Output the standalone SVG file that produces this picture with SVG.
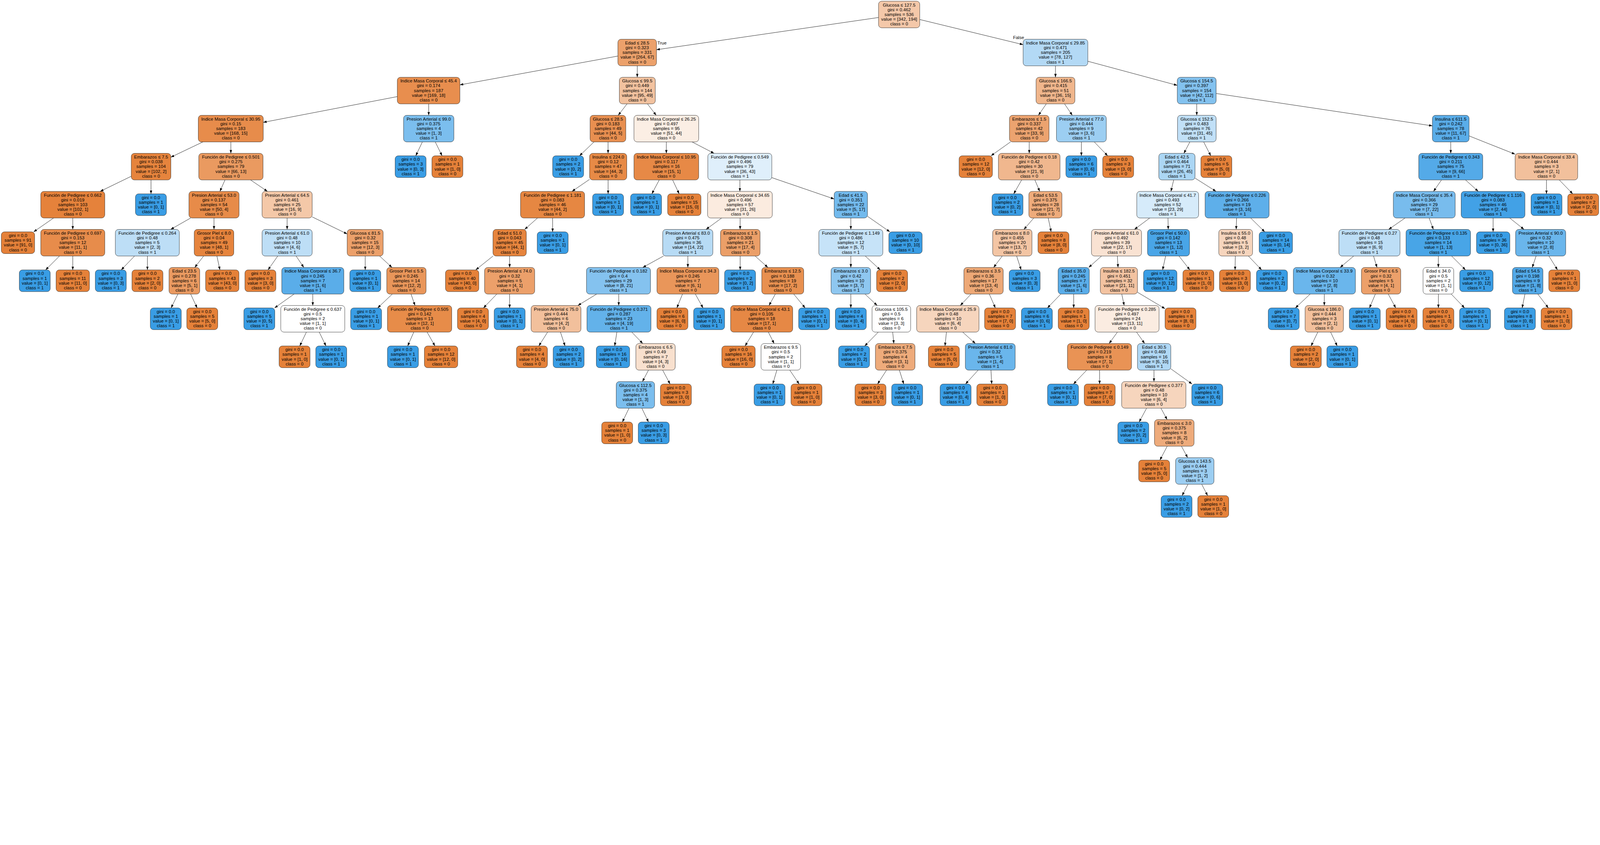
<svg xmlns="http://www.w3.org/2000/svg" width="6673" height="2164" viewBox="0 0 6673 2164" preserveAspectRatio="xMinYMin meet" style="width:100vw;height:100vh;display:block">
<defs>
<marker id="ah" markerUnits="userSpaceOnUse" markerWidth="14" markerHeight="10" refX="14" refY="5" orient="auto"><path d="M0,0 L14,5 L0,10 z" fill="#000"/></marker>
</defs>
<style>
text{font-family:"Liberation Sans",Arial,Helvetica,sans-serif;font-size:18.8px;text-anchor:middle;fill:#000}
.nd rect{stroke:#1a1a1a;stroke-width:1.3}
.o rect{fill:#e58139}
.b rect{fill:#399de5}
#edges path{fill:none;stroke:#000;stroke-width:1.4;marker-end:url(#ah)}
</style>
<rect width="6673" height="2164" fill="#fff"/>
<g id="edges">
<path d="M3664 73L2738 207.5"/><path d="M3836 81.4L4267 186.3"/>
<path d="M2577 233.9L1918 354.1"/><path d="M2657.8 274.7L2657.8 322.4"/><path d="M4402 274.7L4402 322.4"/><path d="M4537 255.6L4910 356.1"/>
<path d="M1657 403L1098 510.5"/><path d="M1788 433.4L1788 481.1"/><path d="M2615.2 433.4L2578.3 481.1"/><path d="M2700.3 433.4L2736.7 481.1"/><path d="M4363.7 433.4L4330.8 481.1"/><path d="M4439.8 433.4L4472.2 481.1"/><path d="M4991.2 433.4L4991.2 481.1"/><path d="M5072 390L5974 525.1"/>
<path d="M846.2 592.1L712.5 655.9"/><path d="M962.8 592.1L962.8 639.8"/><path d="M1761.6 592.1L1734 650"/><path d="M1815.3 592.1L1843.7 650"/><path d="M2477.5 592.1L2416.9 650"/><path d="M2536 592.1L2536 639.8"/><path d="M2779 592.1L2779 639.8"/><path d="M2886.2 592.1L2978.3 639.8"/><path d="M4214.5 592.1L4133.1 650"/><path d="M4292.5 592.1L4292.5 639.8"/><path d="M4510 592.1L4510 650"/><path d="M4563.7 592.1L4619.7 650"/><path d="M4962.5 592.1L4937.5 639.8"/><path d="M5020 592.1L5049.7 650"/><path d="M6050.5 592.1L6050.5 639.8"/><path d="M6127 567L6319 643.4"/>
<path d="M547.5 735.4L417.7 798.5"/><path d="M629.8 750.8L629.8 808.7"/><path d="M938.3 750.8L917.2 798.5"/><path d="M1045 750.8L1115.5 798.5"/><path d="M2459 748.3L2385.6 798.5"/><path d="M2536.2 750.8L2536.2 808.7"/><path d="M2749.5 750.8L2718.6 808.7"/><path d="M2805.2 750.8L2832.6 808.7"/><path d="M3085.8 750.8L3085.8 798.5"/><path d="M3219 741.1L3479 830.2"/><path d="M4260.9 750.8L4227.8 808.7"/><path d="M4316.1 750.8L4336.4 798.5"/><path d="M4895 750.8L4883.5 798.5"/><path d="M4984 743L5071.7 798.5"/><path d="M6011.9 750.8L5978.6 798.5"/><path d="M6112.2 750.8L6165.3 798.5"/><path d="M6449.8 750.8L6449.8 808.7"/><path d="M6503.2 750.8L6559.2 808.7"/>
<path d="M223.6 909.5L140.2 967.4"/><path d="M303.5 909.5L303.5 957.2"/><path d="M795.3 909.5L711.7 957.2"/><path d="M892.5 909.5L892.5 957.2"/><path d="M1197.5 909.5L1197.5 957.2"/><path d="M1302 904.9L1448 976.1"/><path d="M2241.9 909.5L2188.1 957.2"/><path d="M2304.8 909.5L2304.8 967.4"/><path d="M3009.9 909.5L2944.6 957.2"/><path d="M3086.8 909.5L3086.8 957.2"/><path d="M3548.5 909.5L3548.5 957.2"/><path d="M3618 902.4L3711.4 967.4"/><path d="M4311.7 909.5L4270.3 957.2"/><path d="M4371.7 909.5L4383.9 967.4"/><path d="M4795.3 909.5L4731.2 957.2"/><path d="M4871.2 909.5L4872.3 957.2"/><path d="M5157.4 909.5L5155.6 957.2"/><path d="M5216 909.5L5274.9 967.4"/><path d="M5860.1 909.5L5791.4 957.2"/><path d="M5960.5 909.5L5978 957.2"/><path d="M6227.2 909.5L6227.2 967.4"/><path d="M6296.4 909.5L6356.1 957.2"/>
<path d="M248.1 1068.2L190.2 1126.1"/><path d="M303.5 1068.2L303.5 1126.1"/><path d="M561.2 1068.2L505.5 1126.1"/><path d="M614.8 1068.2L614.8 1126.1"/><path d="M849.3 1068.2L812.2 1115.9"/><path d="M904.6 1068.2L917.2 1126.1"/><path d="M1158.5 1068.2L1117.8 1126.1"/><path d="M1234.9 1068.2L1267.1 1115.9"/><path d="M1523.2 1068.2L1523.2 1126.1"/><path d="M1583.1 1068.2L1634.9 1115.9"/><path d="M2056.3 1068.2L1984 1126.1"/><path d="M2125.5 1068.2L2125.5 1115.9"/><path d="M2767.4 1068.2L2680.6 1115.9"/><path d="M2868.8 1068.2L2868.8 1115.9"/><path d="M3087 1068.2L3087 1126.1"/><path d="M3149.4 1068.2L3202.6 1115.9"/><path d="M3548.5 1068.2L3548.5 1115.9"/><path d="M3608.6 1068.2L3671.4 1126.1"/><path d="M4180 1068.2L4144 1115.9"/><path d="M4240 1068.2L4258.8 1126.1"/><path d="M4594.1 1068.2L4540.4 1115.9"/><path d="M4660 1068.2L4663 1115.9"/><path d="M4861.4 1068.2L4848.8 1126.1"/><path d="M4917 1068.2L4962.5 1126.1"/><path d="M5152 1068.2L5151 1126.1"/><path d="M5206.5 1068.2L5261.8 1126.1"/><path d="M5645.8 1068.2L5589.2 1115.9"/><path d="M5728.5 1068.2L5743 1115.9"/><path d="M5998.8 1068.2L5998.8 1115.9"/><path d="M6054.1 1068.2L6112.1 1126.1"/><path d="M6406.6 1068.2L6390.4 1115.9"/><path d="M6459.9 1068.2L6495.9 1126.1"/>
<path d="M741.9 1226.9L713.6 1284.8"/><path d="M795.1 1226.9L822.2 1284.8"/><path d="M1226.5 1226.9L1145.1 1284.8"/><path d="M1304.5 1226.9L1304.5 1274.6"/><path d="M1636.3 1226.9L1574.9 1284.8"/><path d="M1714.2 1226.9L1730.8 1274.6"/><path d="M2072 1226.9L2016.2 1284.8"/><path d="M2125.5 1226.9L2125.5 1284.8"/><path d="M2488.4 1226.9L2410.1 1274.6"/><path d="M2580.5 1226.9L2580.5 1274.6"/><path d="M2846.4 1226.9L2822.9 1284.8"/><path d="M2899.9 1226.9L2932.2 1284.8"/><path d="M3233.7 1226.9L3207.3 1274.6"/><path d="M3310.3 1226.9L3358.1 1284.8"/><path d="M3548.5 1226.9L3548.5 1284.8"/><path d="M3607.6 1226.9L3658.4 1274.6"/><path d="M4049.9 1226.9L4005.1 1274.6"/><path d="M4126.1 1226.9L4151.3 1284.8"/><path d="M4424.3 1226.9L4368.3 1284.8"/><path d="M4478 1226.9L4478 1284.8"/><path d="M4678.4 1226.9L4688.6 1274.6"/><path d="M4744 1219.3L4859 1288"/><path d="M5464.2 1226.9L5402.4 1284.8"/><path d="M5523.2 1226.9L5523.2 1274.6"/><path d="M5736.2 1226.9L5711.4 1284.8"/><path d="M5789.9 1226.9L5821.1 1284.8"/><path d="M5999 1226.9L5999 1284.8"/><path d="M6052.5 1226.9L6108.3 1284.8"/><path d="M6360.1 1226.9L6348.3 1284.8"/><path d="M6413.6 1226.9L6457.6 1284.8"/>
<path d="M1277.9 1385.6L1250.2 1443.5"/><path d="M1331.4 1385.6L1359.5 1443.5"/><path d="M1725.7 1385.6L1700.3 1443.5"/><path d="M1781.3 1385.6L1814 1443.5"/><path d="M2283.9 1385.6L2247.2 1443.5"/><path d="M2337.4 1385.6L2356.5 1443.5"/><path d="M2572.8 1385.6L2563.6 1443.5"/><path d="M2634.8 1385.6L2680.7 1433.3"/><path d="M3142.8 1385.6L3107.5 1443.5"/><path d="M3204.5 1385.6L3228.5 1433.3"/><path d="M3663.1 1385.6L3606.4 1443.5"/><path d="M3723.1 1385.6L3727.9 1433.3"/><path d="M3947.2 1385.6L3941.2 1443.5"/><path d="M4014.9 1385.6L4068.1 1433.3"/><path d="M4660.3 1385.6L4625.7 1433.3"/><path d="M4740 1385.6L4774 1433.3"/><path d="M5496.1 1385.6L5468 1443.5"/><path d="M5549.4 1385.6L5577 1443.5"/>
<path d="M2704.6 1544.3L2679.4 1592"/><path d="M2763.7 1544.3L2794.7 1602.2"/><path d="M3240.1 1544.3L3222.9 1602.2"/><path d="M3293.9 1544.3L3333 1602.2"/><path d="M3697.5 1544.3L3659.9 1602.2"/><path d="M3751 1544.3L3769.2 1602.2"/><path d="M4079.5 1544.3L4026.7 1602.2"/><path d="M4133 1544.3L4136 1602.2"/><path d="M4532.3 1544.3L4476.9 1602.2"/><path d="M4586 1544.3L4586 1602.2"/><path d="M4812.8 1544.3L4812.8 1592"/><path d="M4883 1538.6L4971.8 1602.2"/>
<path d="M2623.4 1703L2595.7 1760.9"/><path d="M2676.8 1703L2704.7 1760.9"/><path d="M4782.1 1703L4750.9 1760.9"/><path d="M4841.9 1703L4867.6 1750.7"/>
<path d="M4868.1 1861.7L4837.5 1919.6"/><path d="M4927.4 1861.7L4953.1 1909.4"/>
<path d="M4954.6 2020.4L4930.2 2067.9"/><path d="M5011.8 2020.4L5036.5 2067.9"/>
<text x="2761" y="185.5">True</text>
<text x="4248" y="162.5">False</text>
</g>
<g id="n0" class="nd"><rect x="3664" y="5" width="172" height="111" rx="13" fill="#f4c8a9"/><text y="26.9"><tspan x="3750">Glucosa ≤ 127.5</tspan><tspan x="3750" dy="19.8">gini = 0.462</tspan><tspan x="3750" dy="19.8">samples = 536</tspan><tspan x="3750" dy="19.8">value = [342, 194]</tspan><tspan x="3750" dy="19.8">class = 0</tspan></text></g>
<g id="n1" class="nd"><rect x="2577" y="163.7" width="161" height="111" rx="13" fill="#eca16b"/><text y="185.6"><tspan x="2657.5">Edad ≤ 28.5</tspan><tspan x="2657.5" dy="19.8">gini = 0.323</tspan><tspan x="2657.5" dy="19.8">samples = 331</tspan><tspan x="2657.5" dy="19.8">value = [264, 67]</tspan><tspan x="2657.5" dy="19.8">class = 0</tspan></text></g>
<g id="n2" class="nd"><rect x="4267" y="163.7" width="270" height="111" rx="13" fill="#b3d9f5"/><text y="185.6"><tspan x="4402">Indice Masa Corporal ≤ 29.85</tspan><tspan x="4402" dy="19.8">gini = 0.471</tspan><tspan x="4402" dy="19.8">samples = 205</tspan><tspan x="4402" dy="19.8">value = [78, 127]</tspan><tspan x="4402" dy="19.8">class = 1</tspan></text></g>
<g id="n3" class="nd"><rect x="1657" y="322.4" width="261" height="111" rx="13" fill="#e88e4e"/><text y="344.3"><tspan x="1787.5">Indice Masa Corporal ≤ 45.4</tspan><tspan x="1787.5" dy="19.8">gini = 0.174</tspan><tspan x="1787.5" dy="19.8">samples = 187</tspan><tspan x="1787.5" dy="19.8">value = [169, 18]</tspan><tspan x="1787.5" dy="19.8">class = 0</tspan></text></g>
<g id="n4" class="nd"><rect x="2583" y="322.4" width="150" height="111" rx="13" fill="#f2c29f"/><text y="344.3"><tspan x="2658">Glucosa ≤ 99.5</tspan><tspan x="2658" dy="19.8">gini = 0.449</tspan><tspan x="2658" dy="19.8">samples = 144</tspan><tspan x="2658" dy="19.8">value = [95, 49]</tspan><tspan x="2658" dy="19.8">class = 0</tspan></text></g>
<g id="n5" class="nd"><rect x="4321" y="322.4" width="162" height="111" rx="13" fill="#f0b68c"/><text y="344.3"><tspan x="4402">Glucosa ≤ 166.5</tspan><tspan x="4402" dy="19.8">gini = 0.415</tspan><tspan x="4402" dy="19.8">samples = 51</tspan><tspan x="4402" dy="19.8">value = [36, 15]</tspan><tspan x="4402" dy="19.8">class = 0</tspan></text></g>
<g id="n6" class="nd"><rect x="4910" y="322.4" width="162" height="111" rx="13" fill="#83c2ef"/><text y="344.3"><tspan x="4991">Glucosa ≤ 154.5</tspan><tspan x="4991" dy="19.8">gini = 0.397</tspan><tspan x="4991" dy="19.8">samples = 154</tspan><tspan x="4991" dy="19.8">value = [42, 112]</tspan><tspan x="4991" dy="19.8">class = 1</tspan></text></g>
<g id="n7" class="nd"><rect x="827" y="481.1" width="271" height="111" rx="13" fill="#e78c4b"/><text y="503"><tspan x="962.5">Indice Masa Corporal ≤ 30.95</tspan><tspan x="962.5" dy="19.8">gini = 0.15</tspan><tspan x="962.5" dy="19.8">samples = 183</tspan><tspan x="962.5" dy="19.8">value = [168, 15]</tspan><tspan x="962.5" dy="19.8">class = 0</tspan></text></g>
<g id="n8" class="nd"><rect x="1683" y="481.1" width="210" height="111" rx="13" fill="#7bbeee"/><text y="503"><tspan x="1788">Presion Arterial ≤ 99.0</tspan><tspan x="1788" dy="19.8">gini = 0.375</tspan><tspan x="1788" dy="19.8">samples = 4</tspan><tspan x="1788" dy="19.8">value = [1, 3]</tspan><tspan x="1788" dy="19.8">class = 1</tspan></text></g>
<g id="n9" class="nd"><rect x="2461" y="481.1" width="149" height="111" rx="13" fill="#e88f50"/><text y="503"><tspan x="2535.5">Glucosa ≤ 28.5</tspan><tspan x="2535.5" dy="19.8">gini = 0.183</tspan><tspan x="2535.5" dy="19.8">samples = 49</tspan><tspan x="2535.5" dy="19.8">value = [44, 5]</tspan><tspan x="2535.5" dy="19.8">class = 0</tspan></text></g>
<g id="n10" class="nd"><rect x="2644" y="481.1" width="270" height="111" rx="13" fill="#fbeee4"/><text y="503"><tspan x="2779">Indice Masa Corporal ≤ 26.25</tspan><tspan x="2779" dy="19.8">gini = 0.497</tspan><tspan x="2779" dy="19.8">samples = 95</tspan><tspan x="2779" dy="19.8">value = [51, 44]</tspan><tspan x="2779" dy="19.8">class = 0</tspan></text></g>
<g id="n11" class="nd"><rect x="4210" y="481.1" width="165" height="111" rx="13" fill="#eca36f"/><text y="503"><tspan x="4292.5">Embarazos ≤ 1.5</tspan><tspan x="4292.5" dy="19.8">gini = 0.337</tspan><tspan x="4292.5" dy="19.8">samples = 42</tspan><tspan x="4292.5" dy="19.8">value = [33, 9]</tspan><tspan x="4292.5" dy="19.8">class = 0</tspan></text></g>
<g id="n12" class="nd"><rect x="4406" y="481.1" width="208" height="111" rx="13" fill="#9ccef2"/><text y="503"><tspan x="4510">Presion Arterial ≤ 77.0</tspan><tspan x="4510" dy="19.8">gini = 0.444</tspan><tspan x="4510" dy="19.8">samples = 9</tspan><tspan x="4510" dy="19.8">value = [3, 6]</tspan><tspan x="4510" dy="19.8">class = 1</tspan></text></g>
<g id="n13" class="nd"><rect x="4911" y="481.1" width="161" height="111" rx="13" fill="#c1e0f7"/><text y="503"><tspan x="4991.5">Glucosa ≤ 152.5</tspan><tspan x="4991.5" dy="19.8">gini = 0.483</tspan><tspan x="4991.5" dy="19.8">samples = 76</tspan><tspan x="4991.5" dy="19.8">value = [31, 45]</tspan><tspan x="4991.5" dy="19.8">class = 1</tspan></text></g>
<g id="n14" class="nd"><rect x="5974" y="481.1" width="153" height="111" rx="13" fill="#5aade9"/><text y="503"><tspan x="6050.5">Insulina ≤ 611.5</tspan><tspan x="6050.5" dy="19.8">gini = 0.242</tspan><tspan x="6050.5" dy="19.8">samples = 78</tspan><tspan x="6050.5" dy="19.8">value = [11, 67]</tspan><tspan x="6050.5" dy="19.8">class = 1</tspan></text></g>
<g id="n15" class="nd"><rect x="547.5" y="639.8" width="165" height="111" rx="13" fill="#e6843d"/><text y="661.7"><tspan x="630">Embarazos ≤ 7.5</tspan><tspan x="630" dy="19.8">gini = 0.038</tspan><tspan x="630" dy="19.8">samples = 104</tspan><tspan x="630" dy="19.8">value = [102, 2]</tspan><tspan x="630" dy="19.8">class = 0</tspan></text></g>
<g id="n16" class="nd"><rect x="829" y="639.8" width="268" height="111" rx="13" fill="#ea9a60"/><text y="661.7"><tspan x="963">Función de Pedigree ≤ 0.501</tspan><tspan x="963" dy="19.8">gini = 0.275</tspan><tspan x="963" dy="19.8">samples = 79</tspan><tspan x="963" dy="19.8">value = [66, 13]</tspan><tspan x="963" dy="19.8">class = 0</tspan></text></g>
<g id="n17" class="nd b"><rect x="1648" y="650" width="129" height="90.6" rx="13"/><text y="671.6"><tspan x="1712.5">gini = 0.0</tspan><tspan x="1712.5" dy="19.8">samples = 3</tspan><tspan x="1712.5" dy="19.8">value = [0, 3]</tspan><tspan x="1712.5" dy="19.8">class = 1</tspan></text></g>
<g id="n18" class="nd o"><rect x="1801.5" y="650" width="129" height="90.6" rx="13"/><text y="671.6"><tspan x="1866">gini = 0.0</tspan><tspan x="1866" dy="19.8">samples = 1</tspan><tspan x="1866" dy="19.8">value = [1, 0]</tspan><tspan x="1866" dy="19.8">class = 0</tspan></text></g>
<g id="n19" class="nd b"><rect x="2305" y="650" width="129" height="90.6" rx="13"/><text y="671.6"><tspan x="2369.5">gini = 0.0</tspan><tspan x="2369.5" dy="19.8">samples = 2</tspan><tspan x="2369.5" dy="19.8">value = [0, 2]</tspan><tspan x="2369.5" dy="19.8">class = 1</tspan></text></g>
<g id="n20" class="nd"><rect x="2459" y="639.8" width="155" height="111" rx="13" fill="#e78a46"/><text y="661.7"><tspan x="2536.5">Insulina ≤ 224.0</tspan><tspan x="2536.5" dy="19.8">gini = 0.12</tspan><tspan x="2536.5" dy="19.8">samples = 47</tspan><tspan x="2536.5" dy="19.8">value = [44, 3]</tspan><tspan x="2536.5" dy="19.8">class = 0</tspan></text></g>
<g id="n21" class="nd"><rect x="2644" y="639.8" width="270" height="111" rx="13" fill="#e78946"/><text y="661.7"><tspan x="2779">Indice Masa Corporal ≤ 10.95</tspan><tspan x="2779" dy="19.8">gini = 0.117</tspan><tspan x="2779" dy="19.8">samples = 16</tspan><tspan x="2779" dy="19.8">value = [15, 1]</tspan><tspan x="2779" dy="19.8">class = 0</tspan></text></g>
<g id="n22" class="nd"><rect x="2952" y="639.8" width="267" height="111" rx="13" fill="#dfeffb"/><text y="661.7"><tspan x="3085.5">Función de Pedigree ≤ 0.549</tspan><tspan x="3085.5" dy="19.8">gini = 0.496</tspan><tspan x="3085.5" dy="19.8">samples = 79</tspan><tspan x="3085.5" dy="19.8">value = [36, 43]</tspan><tspan x="3085.5" dy="19.8">class = 1</tspan></text></g>
<g id="n23" class="nd o"><rect x="4000" y="650" width="139" height="90.6" rx="13"/><text y="671.6"><tspan x="4069.5">gini = 0.0</tspan><tspan x="4069.5" dy="19.8">samples = 12</tspan><tspan x="4069.5" dy="19.8">value = [12, 0]</tspan><tspan x="4069.5" dy="19.8">class = 0</tspan></text></g>
<g id="n24" class="nd"><rect x="4164" y="639.8" width="257" height="111" rx="13" fill="#f0b78e"/><text y="661.7"><tspan x="4292.5">Función de Pedigree ≤ 0.18</tspan><tspan x="4292.5" dy="19.8">gini = 0.42</tspan><tspan x="4292.5" dy="19.8">samples = 30</tspan><tspan x="4292.5" dy="19.8">value = [21, 9]</tspan><tspan x="4292.5" dy="19.8">class = 0</tspan></text></g>
<g id="n25" class="nd b"><rect x="4445.5" y="650" width="129" height="90.6" rx="13"/><text y="671.6"><tspan x="4510">gini = 0.0</tspan><tspan x="4510" dy="19.8">samples = 6</tspan><tspan x="4510" dy="19.8">value = [0, 6]</tspan><tspan x="4510" dy="19.8">class = 1</tspan></text></g>
<g id="n26" class="nd o"><rect x="4599" y="650" width="129" height="90.6" rx="13"/><text y="671.6"><tspan x="4663.5">gini = 0.0</tspan><tspan x="4663.5" dy="19.8">samples = 3</tspan><tspan x="4663.5" dy="19.8">value = [3, 0]</tspan><tspan x="4663.5" dy="19.8">class = 0</tspan></text></g>
<g id="n27" class="nd"><rect x="4833" y="639.8" width="151" height="111" rx="13" fill="#abd6f4"/><text y="661.7"><tspan x="4908.5">Edad ≤ 42.5</tspan><tspan x="4908.5" dy="19.8">gini = 0.464</tspan><tspan x="4908.5" dy="19.8">samples = 71</tspan><tspan x="4908.5" dy="19.8">value = [26, 45]</tspan><tspan x="4908.5" dy="19.8">class = 1</tspan></text></g>
<g id="n28" class="nd o"><rect x="5008.5" y="650" width="129" height="90.6" rx="13"/><text y="671.6"><tspan x="5073">gini = 0.0</tspan><tspan x="5073" dy="19.8">samples = 5</tspan><tspan x="5073" dy="19.8">value = [5, 0]</tspan><tspan x="5073" dy="19.8">class = 0</tspan></text></g>
<g id="n29" class="nd"><rect x="5917" y="639.8" width="267" height="111" rx="13" fill="#54aae8"/><text y="661.7"><tspan x="6050.5">Función de Pedigree ≤ 0.343</tspan><tspan x="6050.5" dy="19.8">gini = 0.211</tspan><tspan x="6050.5" dy="19.8">samples = 75</tspan><tspan x="6050.5" dy="19.8">value = [9, 66]</tspan><tspan x="6050.5" dy="19.8">class = 1</tspan></text></g>
<g id="n30" class="nd"><rect x="6319" y="639.8" width="261" height="111" rx="13" fill="#f2c09c"/><text y="661.7"><tspan x="6449.5">Indice Masa Corporal ≤ 33.4</tspan><tspan x="6449.5" dy="19.8">gini = 0.444</tspan><tspan x="6449.5" dy="19.8">samples = 3</tspan><tspan x="6449.5" dy="19.8">value = [2, 1]</tspan><tspan x="6449.5" dy="19.8">class = 0</tspan></text></g>
<g id="n31" class="nd"><rect x="170" y="798.5" width="267" height="111" rx="13" fill="#e5823b"/><text y="820.4"><tspan x="303.5">Función de Pedigree ≤ 0.662</tspan><tspan x="303.5" dy="19.8">gini = 0.019</tspan><tspan x="303.5" dy="19.8">samples = 103</tspan><tspan x="303.5" dy="19.8">value = [102, 1]</tspan><tspan x="303.5" dy="19.8">class = 0</tspan></text></g>
<g id="n32" class="nd b"><rect x="565" y="808.7" width="129" height="90.6" rx="13"/><text y="830.3"><tspan x="629.5">gini = 0.0</tspan><tspan x="629.5" dy="19.8">samples = 1</tspan><tspan x="629.5" dy="19.8">value = [0, 1]</tspan><tspan x="629.5" dy="19.8">class = 1</tspan></text></g>
<g id="n33" class="nd"><rect x="788" y="798.5" width="209" height="111" rx="13" fill="#e78b49"/><text y="820.4"><tspan x="892.5">Presion Arterial ≤ 53.0</tspan><tspan x="892.5" dy="19.8">gini = 0.137</tspan><tspan x="892.5" dy="19.8">samples = 54</tspan><tspan x="892.5" dy="19.8">value = [50, 4]</tspan><tspan x="892.5" dy="19.8">class = 0</tspan></text></g>
<g id="n34" class="nd"><rect x="1093" y="798.5" width="209" height="111" rx="13" fill="#f4c8a8"/><text y="820.4"><tspan x="1197.5">Presion Arterial ≤ 64.5</tspan><tspan x="1197.5" dy="19.8">gini = 0.461</tspan><tspan x="1197.5" dy="19.8">samples = 25</tspan><tspan x="1197.5" dy="19.8">value = [16, 9]</tspan><tspan x="1197.5" dy="19.8">class = 0</tspan></text></g>
<g id="n35" class="nd"><rect x="2171" y="798.5" width="267" height="111" rx="13" fill="#e68742"/><text y="820.4"><tspan x="2304.5">Función de Pedigree ≤ 1.181</tspan><tspan x="2304.5" dy="19.8">gini = 0.083</tspan><tspan x="2304.5" dy="19.8">samples = 46</tspan><tspan x="2304.5" dy="19.8">value = [44, 2]</tspan><tspan x="2304.5" dy="19.8">class = 0</tspan></text></g>
<g id="n36" class="nd b"><rect x="2471.5" y="808.7" width="129" height="90.6" rx="13"/><text y="830.3"><tspan x="2536">gini = 0.0</tspan><tspan x="2536" dy="19.8">samples = 1</tspan><tspan x="2536" dy="19.8">value = [0, 1]</tspan><tspan x="2536" dy="19.8">class = 1</tspan></text></g>
<g id="n37" class="nd b"><rect x="2630" y="808.7" width="129" height="90.6" rx="13"/><text y="830.3"><tspan x="2694.5">gini = 0.0</tspan><tspan x="2694.5" dy="19.8">samples = 1</tspan><tspan x="2694.5" dy="19.8">value = [0, 1]</tspan><tspan x="2694.5" dy="19.8">class = 1</tspan></text></g>
<g id="n38" class="nd o"><rect x="2784.5" y="808.7" width="139" height="90.6" rx="13"/><text y="830.3"><tspan x="2854">gini = 0.0</tspan><tspan x="2854" dy="19.8">samples = 15</tspan><tspan x="2854" dy="19.8">value = [15, 0]</tspan><tspan x="2854" dy="19.8">class = 0</tspan></text></g>
<g id="n39" class="nd"><rect x="2951" y="798.5" width="270" height="111" rx="13" fill="#fbebdf"/><text y="820.4"><tspan x="3086">Indice Masa Corporal ≤ 34.65</tspan><tspan x="3086" dy="19.8">gini = 0.496</tspan><tspan x="3086" dy="19.8">samples = 57</tspan><tspan x="3086" dy="19.8">value = [31, 26]</tspan><tspan x="3086" dy="19.8">class = 0</tspan></text></g>
<g id="n40" class="nd"><rect x="3479" y="798.5" width="139" height="111" rx="13" fill="#73baed"/><text y="820.4"><tspan x="3548.5">Edad ≤ 41.5</tspan><tspan x="3548.5" dy="19.8">gini = 0.351</tspan><tspan x="3548.5" dy="19.8">samples = 22</tspan><tspan x="3548.5" dy="19.8">value = [5, 17]</tspan><tspan x="3548.5" dy="19.8">class = 1</tspan></text></g>
<g id="n41" class="nd b"><rect x="4137.5" y="808.7" width="129" height="90.6" rx="13"/><text y="830.3"><tspan x="4202">gini = 0.0</tspan><tspan x="4202" dy="19.8">samples = 2</tspan><tspan x="4202" dy="19.8">value = [0, 2]</tspan><tspan x="4202" dy="19.8">class = 1</tspan></text></g>
<g id="n42" class="nd"><rect x="4291" y="798.5" width="138" height="111" rx="13" fill="#eeab7b"/><text y="820.4"><tspan x="4360">Edad ≤ 53.5</tspan><tspan x="4360" dy="19.8">gini = 0.375</tspan><tspan x="4360" dy="19.8">samples = 28</tspan><tspan x="4360" dy="19.8">value = [21, 7]</tspan><tspan x="4360" dy="19.8">class = 0</tspan></text></g>
<g id="n43" class="nd"><rect x="4741" y="798.5" width="258" height="111" rx="13" fill="#d6ebfa"/><text y="820.4"><tspan x="4870">Indice Masa Corporal ≤ 41.7</tspan><tspan x="4870" dy="19.8">gini = 0.493</tspan><tspan x="4870" dy="19.8">samples = 52</tspan><tspan x="4870" dy="19.8">value = [23, 29]</tspan><tspan x="4870" dy="19.8">class = 1</tspan></text></g>
<g id="n44" class="nd"><rect x="5026" y="798.5" width="267" height="111" rx="13" fill="#5eafea"/><text y="820.4"><tspan x="5159.5">Función de Pedigree ≤ 0.226</tspan><tspan x="5159.5" dy="19.8">gini = 0.266</tspan><tspan x="5159.5" dy="19.8">samples = 19</tspan><tspan x="5159.5" dy="19.8">value = [3, 16]</tspan><tspan x="5159.5" dy="19.8">class = 1</tspan></text></g>
<g id="n45" class="nd"><rect x="5811" y="798.5" width="258" height="111" rx="13" fill="#78bced"/><text y="820.4"><tspan x="5940">Indice Masa Corporal ≤ 35.4</tspan><tspan x="5940" dy="19.8">gini = 0.366</tspan><tspan x="5940" dy="19.8">samples = 29</tspan><tspan x="5940" dy="19.8">value = [7, 22]</tspan><tspan x="5940" dy="19.8">class = 1</tspan></text></g>
<g id="n46" class="nd"><rect x="6094" y="798.5" width="266" height="111" rx="13" fill="#42a1e6"/><text y="820.4"><tspan x="6227">Función de Pedigree ≤ 1.116</tspan><tspan x="6227" dy="19.8">gini = 0.083</tspan><tspan x="6227" dy="19.8">samples = 46</tspan><tspan x="6227" dy="19.8">value = [2, 44]</tspan><tspan x="6227" dy="19.8">class = 1</tspan></text></g>
<g id="n47" class="nd b"><rect x="6385.5" y="808.7" width="129" height="90.6" rx="13"/><text y="830.3"><tspan x="6450">gini = 0.0</tspan><tspan x="6450" dy="19.8">samples = 1</tspan><tspan x="6450" dy="19.8">value = [0, 1]</tspan><tspan x="6450" dy="19.8">class = 1</tspan></text></g>
<g id="n48" class="nd o"><rect x="6538.5" y="808.7" width="129" height="90.6" rx="13"/><text y="830.3"><tspan x="6603">gini = 0.0</tspan><tspan x="6603" dy="19.8">samples = 2</tspan><tspan x="6603" dy="19.8">value = [2, 0]</tspan><tspan x="6603" dy="19.8">class = 0</tspan></text></g>
<g id="n49" class="nd o"><rect x="5.5" y="967.4" width="139" height="90.6" rx="13"/><text y="989"><tspan x="75">gini = 0.0</tspan><tspan x="75" dy="19.8">samples = 91</tspan><tspan x="75" dy="19.8">value = [91, 0]</tspan><tspan x="75" dy="19.8">class = 0</tspan></text></g>
<g id="n50" class="nd"><rect x="170" y="957.2" width="267" height="111" rx="13" fill="#e78c4b"/><text y="979.1"><tspan x="303.5">Función de Pedigree ≤ 0.697</tspan><tspan x="303.5" dy="19.8">gini = 0.153</tspan><tspan x="303.5" dy="19.8">samples = 12</tspan><tspan x="303.5" dy="19.8">value = [11, 1]</tspan><tspan x="303.5" dy="19.8">class = 0</tspan></text></g>
<g id="n51" class="nd"><rect x="481" y="957.2" width="267" height="111" rx="13" fill="#bddef6"/><text y="979.1"><tspan x="614.5">Función de Pedigree ≤ 0.264</tspan><tspan x="614.5" dy="19.8">gini = 0.48</tspan><tspan x="614.5" dy="19.8">samples = 5</tspan><tspan x="614.5" dy="19.8">value = [2, 3]</tspan><tspan x="614.5" dy="19.8">class = 1</tspan></text></g>
<g id="n52" class="nd"><rect x="810" y="957.2" width="165" height="111" rx="13" fill="#e6843d"/><text y="979.1"><tspan x="892.5">Grosor Piel ≤ 8.0</tspan><tspan x="892.5" dy="19.8">gini = 0.04</tspan><tspan x="892.5" dy="19.8">samples = 49</tspan><tspan x="892.5" dy="19.8">value = [48, 1]</tspan><tspan x="892.5" dy="19.8">class = 0</tspan></text></g>
<g id="n53" class="nd"><rect x="1093" y="957.2" width="209" height="111" rx="13" fill="#bddef6"/><text y="979.1"><tspan x="1197.5">Presion Arterial ≤ 61.0</tspan><tspan x="1197.5" dy="19.8">gini = 0.48</tspan><tspan x="1197.5" dy="19.8">samples = 10</tspan><tspan x="1197.5" dy="19.8">value = [4, 6]</tspan><tspan x="1197.5" dy="19.8">class = 1</tspan></text></g>
<g id="n54" class="nd"><rect x="1448" y="957.2" width="150" height="111" rx="13" fill="#eca06a"/><text y="979.1"><tspan x="1523">Glucosa ≤ 81.5</tspan><tspan x="1523" dy="19.8">gini = 0.32</tspan><tspan x="1523" dy="19.8">samples = 15</tspan><tspan x="1523" dy="19.8">value = [12, 3]</tspan><tspan x="1523" dy="19.8">class = 0</tspan></text></g>
<g id="n55" class="nd"><rect x="2056" y="957.2" width="139" height="111" rx="13" fill="#e6843d"/><text y="979.1"><tspan x="2125.5">Edad ≤ 51.0</tspan><tspan x="2125.5" dy="19.8">gini = 0.043</tspan><tspan x="2125.5" dy="19.8">samples = 45</tspan><tspan x="2125.5" dy="19.8">value = [44, 1]</tspan><tspan x="2125.5" dy="19.8">class = 0</tspan></text></g>
<g id="n56" class="nd b"><rect x="2240.5" y="967.4" width="129" height="90.6" rx="13"/><text y="989"><tspan x="2305">gini = 0.0</tspan><tspan x="2305" dy="19.8">samples = 1</tspan><tspan x="2305" dy="19.8">value = [0, 1]</tspan><tspan x="2305" dy="19.8">class = 1</tspan></text></g>
<g id="n57" class="nd"><rect x="2764" y="957.2" width="209" height="111" rx="13" fill="#b7dbf5"/><text y="979.1"><tspan x="2868.5">Presion Arterial ≤ 83.0</tspan><tspan x="2868.5" dy="19.8">gini = 0.475</tspan><tspan x="2868.5" dy="19.8">samples = 36</tspan><tspan x="2868.5" dy="19.8">value = [14, 22]</tspan><tspan x="2868.5" dy="19.8">class = 1</tspan></text></g>
<g id="n58" class="nd"><rect x="3005" y="957.2" width="165" height="111" rx="13" fill="#eb9f68"/><text y="979.1"><tspan x="3087.5">Embarazos ≤ 1.5</tspan><tspan x="3087.5" dy="19.8">gini = 0.308</tspan><tspan x="3087.5" dy="19.8">samples = 21</tspan><tspan x="3087.5" dy="19.8">value = [17, 4]</tspan><tspan x="3087.5" dy="19.8">class = 0</tspan></text></g>
<g id="n59" class="nd"><rect x="3415" y="957.2" width="267" height="111" rx="13" fill="#c6e3f8"/><text y="979.1"><tspan x="3548.5">Función de Pedigree ≤ 1.149</tspan><tspan x="3548.5" dy="19.8">gini = 0.486</tspan><tspan x="3548.5" dy="19.8">samples = 12</tspan><tspan x="3548.5" dy="19.8">value = [5, 7]</tspan><tspan x="3548.5" dy="19.8">class = 1</tspan></text></g>
<g id="n60" class="nd b"><rect x="3707" y="967.4" width="139" height="90.6" rx="13"/><text y="989"><tspan x="3776.5">gini = 0.0</tspan><tspan x="3776.5" dy="19.8">samples = 10</tspan><tspan x="3776.5" dy="19.8">value = [0, 10]</tspan><tspan x="3776.5" dy="19.8">class = 1</tspan></text></g>
<g id="n61" class="nd"><rect x="4140" y="957.2" width="164" height="111" rx="13" fill="#f3c5a4"/><text y="979.1"><tspan x="4222">Embarazos ≤ 8.0</tspan><tspan x="4222" dy="19.8">gini = 0.455</tspan><tspan x="4222" dy="19.8">samples = 20</tspan><tspan x="4222" dy="19.8">value = [13, 7]</tspan><tspan x="4222" dy="19.8">class = 0</tspan></text></g>
<g id="n62" class="nd o"><rect x="4329" y="967.4" width="129" height="90.6" rx="13"/><text y="989"><tspan x="4393.5">gini = 0.0</tspan><tspan x="4393.5" dy="19.8">samples = 8</tspan><tspan x="4393.5" dy="19.8">value = [8, 0]</tspan><tspan x="4393.5" dy="19.8">class = 0</tspan></text></g>
<g id="n63" class="nd"><rect x="4552" y="957.2" width="209" height="111" rx="13" fill="#f9e2d2"/><text y="979.1"><tspan x="4656.5">Presion Arterial ≤ 61.0</tspan><tspan x="4656.5" dy="19.8">gini = 0.492</tspan><tspan x="4656.5" dy="19.8">samples = 39</tspan><tspan x="4656.5" dy="19.8">value = [22, 17]</tspan><tspan x="4656.5" dy="19.8">class = 0</tspan></text></g>
<g id="n64" class="nd"><rect x="4786" y="957.2" width="175" height="111" rx="13" fill="#49a5e7"/><text y="979.1"><tspan x="4873.5">Grosor Piel ≤ 50.0</tspan><tspan x="4873.5" dy="19.8">gini = 0.142</tspan><tspan x="4873.5" dy="19.8">samples = 13</tspan><tspan x="4873.5" dy="19.8">value = [1, 12]</tspan><tspan x="4873.5" dy="19.8">class = 1</tspan></text></g>
<g id="n65" class="nd"><rect x="5083" y="957.2" width="141" height="111" rx="13" fill="#f6d5bd"/><text y="979.1"><tspan x="5153.5">Insulina ≤ 55.0</tspan><tspan x="5153.5" dy="19.8">gini = 0.48</tspan><tspan x="5153.5" dy="19.8">samples = 5</tspan><tspan x="5153.5" dy="19.8">value = [3, 2]</tspan><tspan x="5153.5" dy="19.8">class = 0</tspan></text></g>
<g id="n66" class="nd b"><rect x="5251.5" y="967.4" width="139" height="90.6" rx="13"/><text y="989"><tspan x="5321">gini = 0.0</tspan><tspan x="5321" dy="19.8">samples = 14</tspan><tspan x="5321" dy="19.8">value = [0, 14]</tspan><tspan x="5321" dy="19.8">class = 1</tspan></text></g>
<g id="n67" class="nd"><rect x="5584" y="957.2" width="255" height="111" rx="13" fill="#bddef6"/><text y="979.1"><tspan x="5711.5">Función de Pedigree ≤ 0.27</tspan><tspan x="5711.5" dy="19.8">gini = 0.48</tspan><tspan x="5711.5" dy="19.8">samples = 15</tspan><tspan x="5711.5" dy="19.8">value = [6, 9]</tspan><tspan x="5711.5" dy="19.8">class = 1</tspan></text></g>
<g id="n68" class="nd"><rect x="5864" y="957.2" width="269" height="111" rx="13" fill="#48a5e7"/><text y="979.1"><tspan x="5998.5">Función de Pedigree ≤ 0.135</tspan><tspan x="5998.5" dy="19.8">gini = 0.133</tspan><tspan x="5998.5" dy="19.8">samples = 14</tspan><tspan x="5998.5" dy="19.8">value = [1, 13]</tspan><tspan x="5998.5" dy="19.8">class = 1</tspan></text></g>
<g id="n69" class="nd b"><rect x="6158" y="967.4" width="139" height="90.6" rx="13"/><text y="989"><tspan x="6227.5">gini = 0.0</tspan><tspan x="6227.5" dy="19.8">samples = 36</tspan><tspan x="6227.5" dy="19.8">value = [0, 36]</tspan><tspan x="6227.5" dy="19.8">class = 1</tspan></text></g>
<g id="n70" class="nd"><rect x="6321" y="957.2" width="209" height="111" rx="13" fill="#6ab6ec"/><text y="979.1"><tspan x="6425.5">Presion Arterial ≤ 90.0</tspan><tspan x="6425.5" dy="19.8">gini = 0.32</tspan><tspan x="6425.5" dy="19.8">samples = 10</tspan><tspan x="6425.5" dy="19.8">value = [2, 8]</tspan><tspan x="6425.5" dy="19.8">class = 1</tspan></text></g>
<g id="n71" class="nd b"><rect x="80.5" y="1126.1" width="129" height="90.6" rx="13"/><text y="1147.7"><tspan x="145">gini = 0.0</tspan><tspan x="145" dy="19.8">samples = 1</tspan><tspan x="145" dy="19.8">value = [0, 1]</tspan><tspan x="145" dy="19.8">class = 1</tspan></text></g>
<g id="n72" class="nd o"><rect x="234" y="1126.1" width="139" height="90.6" rx="13"/><text y="1147.7"><tspan x="303.5">gini = 0.0</tspan><tspan x="303.5" dy="19.8">samples = 11</tspan><tspan x="303.5" dy="19.8">value = [11, 0]</tspan><tspan x="303.5" dy="19.8">class = 0</tspan></text></g>
<g id="n73" class="nd b"><rect x="397.5" y="1126.1" width="129" height="90.6" rx="13"/><text y="1147.7"><tspan x="462">gini = 0.0</tspan><tspan x="462" dy="19.8">samples = 3</tspan><tspan x="462" dy="19.8">value = [0, 3]</tspan><tspan x="462" dy="19.8">class = 1</tspan></text></g>
<g id="n74" class="nd o"><rect x="550.5" y="1126.1" width="129" height="90.6" rx="13"/><text y="1147.7"><tspan x="615">gini = 0.0</tspan><tspan x="615" dy="19.8">samples = 2</tspan><tspan x="615" dy="19.8">value = [2, 0]</tspan><tspan x="615" dy="19.8">class = 0</tspan></text></g>
<g id="n75" class="nd"><rect x="705" y="1115.9" width="128" height="111" rx="13" fill="#ea9a61"/><text y="1137.8"><tspan x="769">Edad ≤ 23.5</tspan><tspan x="769" dy="19.8">gini = 0.278</tspan><tspan x="769" dy="19.8">samples = 6</tspan><tspan x="769" dy="19.8">value = [5, 1]</tspan><tspan x="769" dy="19.8">class = 0</tspan></text></g>
<g id="n76" class="nd o"><rect x="857.5" y="1126.1" width="139" height="90.6" rx="13"/><text y="1147.7"><tspan x="927">gini = 0.0</tspan><tspan x="927" dy="19.8">samples = 43</tspan><tspan x="927" dy="19.8">value = [43, 0]</tspan><tspan x="927" dy="19.8">class = 0</tspan></text></g>
<g id="n77" class="nd o"><rect x="1021.5" y="1126.1" width="129" height="90.6" rx="13"/><text y="1147.7"><tspan x="1086">gini = 0.0</tspan><tspan x="1086" dy="19.8">samples = 3</tspan><tspan x="1086" dy="19.8">value = [3, 0]</tspan><tspan x="1086" dy="19.8">class = 0</tspan></text></g>
<g id="n78" class="nd"><rect x="1175" y="1115.9" width="259" height="111" rx="13" fill="#5aade9"/><text y="1137.8"><tspan x="1304.5">Indice Masa Corporal ≤ 36.7</tspan><tspan x="1304.5" dy="19.8">gini = 0.245</tspan><tspan x="1304.5" dy="19.8">samples = 7</tspan><tspan x="1304.5" dy="19.8">value = [1, 6]</tspan><tspan x="1304.5" dy="19.8">class = 1</tspan></text></g>
<g id="n79" class="nd b"><rect x="1459" y="1126.1" width="129" height="90.6" rx="13"/><text y="1147.7"><tspan x="1523.5">gini = 0.0</tspan><tspan x="1523.5" dy="19.8">samples = 1</tspan><tspan x="1523.5" dy="19.8">value = [0, 1]</tspan><tspan x="1523.5" dy="19.8">class = 1</tspan></text></g>
<g id="n80" class="nd"><rect x="1613" y="1115.9" width="164" height="111" rx="13" fill="#e9965a"/><text y="1137.8"><tspan x="1695">Grosor Piel ≤ 5.5</tspan><tspan x="1695" dy="19.8">gini = 0.245</tspan><tspan x="1695" dy="19.8">samples = 14</tspan><tspan x="1695" dy="19.8">value = [12, 2]</tspan><tspan x="1695" dy="19.8">class = 0</tspan></text></g>
<g id="n81" class="nd o"><rect x="1858" y="1126.1" width="139" height="90.6" rx="13"/><text y="1147.7"><tspan x="1927.5">gini = 0.0</tspan><tspan x="1927.5" dy="19.8">samples = 40</tspan><tspan x="1927.5" dy="19.8">value = [40, 0]</tspan><tspan x="1927.5" dy="19.8">class = 0</tspan></text></g>
<g id="n82" class="nd"><rect x="2021" y="1115.9" width="209" height="111" rx="13" fill="#eca06a"/><text y="1137.8"><tspan x="2125.5">Presion Arterial ≤ 74.0</tspan><tspan x="2125.5" dy="19.8">gini = 0.32</tspan><tspan x="2125.5" dy="19.8">samples = 5</tspan><tspan x="2125.5" dy="19.8">value = [4, 1]</tspan><tspan x="2125.5" dy="19.8">class = 0</tspan></text></g>
<g id="n83" class="nd"><rect x="2446" y="1115.9" width="267" height="111" rx="13" fill="#84c2ef"/><text y="1137.8"><tspan x="2579.5">Función de Pedigree ≤ 0.182</tspan><tspan x="2579.5" dy="19.8">gini = 0.4</tspan><tspan x="2579.5" dy="19.8">samples = 29</tspan><tspan x="2579.5" dy="19.8">value = [8, 21]</tspan><tspan x="2579.5" dy="19.8">class = 1</tspan></text></g>
<g id="n84" class="nd"><rect x="2740" y="1115.9" width="258" height="111" rx="13" fill="#e9965a"/><text y="1137.8"><tspan x="2869">Indice Masa Corporal ≤ 34.3</tspan><tspan x="2869" dy="19.8">gini = 0.245</tspan><tspan x="2869" dy="19.8">samples = 7</tspan><tspan x="2869" dy="19.8">value = [6, 1]</tspan><tspan x="2869" dy="19.8">class = 0</tspan></text></g>
<g id="n85" class="nd b"><rect x="3022" y="1126.1" width="129" height="90.6" rx="13"/><text y="1147.7"><tspan x="3086.5">gini = 0.0</tspan><tspan x="3086.5" dy="19.8">samples = 2</tspan><tspan x="3086.5" dy="19.8">value = [0, 2]</tspan><tspan x="3086.5" dy="19.8">class = 1</tspan></text></g>
<g id="n86" class="nd"><rect x="3177" y="1115.9" width="175" height="111" rx="13" fill="#e89050"/><text y="1137.8"><tspan x="3264.5">Embarazos ≤ 12.5</tspan><tspan x="3264.5" dy="19.8">gini = 0.188</tspan><tspan x="3264.5" dy="19.8">samples = 19</tspan><tspan x="3264.5" dy="19.8">value = [17, 2]</tspan><tspan x="3264.5" dy="19.8">class = 0</tspan></text></g>
<g id="n87" class="nd"><rect x="3466" y="1115.9" width="165" height="111" rx="13" fill="#8ec7f0"/><text y="1137.8"><tspan x="3548.5">Embarazos ≤ 3.0</tspan><tspan x="3548.5" dy="19.8">gini = 0.42</tspan><tspan x="3548.5" dy="19.8">samples = 10</tspan><tspan x="3548.5" dy="19.8">value = [3, 7]</tspan><tspan x="3548.5" dy="19.8">class = 1</tspan></text></g>
<g id="n88" class="nd o"><rect x="3656" y="1126.1" width="129" height="90.6" rx="13"/><text y="1147.7"><tspan x="3720.5">gini = 0.0</tspan><tspan x="3720.5" dy="19.8">samples = 2</tspan><tspan x="3720.5" dy="19.8">value = [2, 0]</tspan><tspan x="3720.5" dy="19.8">class = 0</tspan></text></g>
<g id="n89" class="nd"><rect x="4020" y="1115.9" width="164" height="111" rx="13" fill="#eda876"/><text y="1137.8"><tspan x="4102">Embarazos ≤ 3.5</tspan><tspan x="4102" dy="19.8">gini = 0.36</tspan><tspan x="4102" dy="19.8">samples = 17</tspan><tspan x="4102" dy="19.8">value = [13, 4]</tspan><tspan x="4102" dy="19.8">class = 0</tspan></text></g>
<g id="n90" class="nd b"><rect x="4209" y="1126.1" width="129" height="90.6" rx="13"/><text y="1147.7"><tspan x="4273.5">gini = 0.0</tspan><tspan x="4273.5" dy="19.8">samples = 3</tspan><tspan x="4273.5" dy="19.8">value = [0, 3]</tspan><tspan x="4273.5" dy="19.8">class = 1</tspan></text></g>
<g id="n91" class="nd"><rect x="4413" y="1115.9" width="130" height="111" rx="13" fill="#5aade9"/><text y="1137.8"><tspan x="4478">Edad ≤ 35.0</tspan><tspan x="4478" dy="19.8">gini = 0.245</tspan><tspan x="4478" dy="19.8">samples = 7</tspan><tspan x="4478" dy="19.8">value = [1, 6]</tspan><tspan x="4478" dy="19.8">class = 1</tspan></text></g>
<g id="n92" class="nd"><rect x="4589" y="1115.9" width="155" height="111" rx="13" fill="#f3c3a1"/><text y="1137.8"><tspan x="4666.5">Insulina ≤ 182.5</tspan><tspan x="4666.5" dy="19.8">gini = 0.451</tspan><tspan x="4666.5" dy="19.8">samples = 32</tspan><tspan x="4666.5" dy="19.8">value = [21, 11]</tspan><tspan x="4666.5" dy="19.8">class = 0</tspan></text></g>
<g id="n93" class="nd b"><rect x="4769.5" y="1126.1" width="139" height="90.6" rx="13"/><text y="1147.7"><tspan x="4839">gini = 0.0</tspan><tspan x="4839" dy="19.8">samples = 12</tspan><tspan x="4839" dy="19.8">value = [0, 12]</tspan><tspan x="4839" dy="19.8">class = 1</tspan></text></g>
<g id="n94" class="nd o"><rect x="4933.5" y="1126.1" width="129" height="90.6" rx="13"/><text y="1147.7"><tspan x="4998">gini = 0.0</tspan><tspan x="4998" dy="19.8">samples = 1</tspan><tspan x="4998" dy="19.8">value = [1, 0]</tspan><tspan x="4998" dy="19.8">class = 0</tspan></text></g>
<g id="n95" class="nd o"><rect x="5086" y="1126.1" width="129" height="90.6" rx="13"/><text y="1147.7"><tspan x="5150.5">gini = 0.0</tspan><tspan x="5150.5" dy="19.8">samples = 3</tspan><tspan x="5150.5" dy="19.8">value = [3, 0]</tspan><tspan x="5150.5" dy="19.8">class = 0</tspan></text></g>
<g id="n96" class="nd b"><rect x="5240.5" y="1126.1" width="129" height="90.6" rx="13"/><text y="1147.7"><tspan x="5305">gini = 0.0</tspan><tspan x="5305" dy="19.8">samples = 2</tspan><tspan x="5305" dy="19.8">value = [0, 2]</tspan><tspan x="5305" dy="19.8">class = 1</tspan></text></g>
<g id="n97" class="nd"><rect x="5394" y="1115.9" width="259" height="111" rx="13" fill="#6ab6ec"/><text y="1137.8"><tspan x="5523.5">Indice Masa Corporal ≤ 33.9</tspan><tspan x="5523.5" dy="19.8">gini = 0.32</tspan><tspan x="5523.5" dy="19.8">samples = 10</tspan><tspan x="5523.5" dy="19.8">value = [2, 8]</tspan><tspan x="5523.5" dy="19.8">class = 1</tspan></text></g>
<g id="n98" class="nd"><rect x="5678" y="1115.9" width="164" height="111" rx="13" fill="#eca06a"/><text y="1137.8"><tspan x="5760">Grosor Piel ≤ 6.5</tspan><tspan x="5760" dy="19.8">gini = 0.32</tspan><tspan x="5760" dy="19.8">samples = 5</tspan><tspan x="5760" dy="19.8">value = [4, 1]</tspan><tspan x="5760" dy="19.8">class = 0</tspan></text></g>
<g id="n99" class="nd"><rect x="5935" y="1115.9" width="128" height="111" rx="13" fill="#ffffff"/><text y="1137.8"><tspan x="5999">Edad ≤ 34.0</tspan><tspan x="5999" dy="19.8">gini = 0.5</tspan><tspan x="5999" dy="19.8">samples = 2</tspan><tspan x="5999" dy="19.8">value = [1, 1]</tspan><tspan x="5999" dy="19.8">class = 0</tspan></text></g>
<g id="n100" class="nd b"><rect x="6088" y="1126.1" width="139" height="90.6" rx="13"/><text y="1147.7"><tspan x="6157.5">gini = 0.0</tspan><tspan x="6157.5" dy="19.8">samples = 12</tspan><tspan x="6157.5" dy="19.8">value = [0, 12]</tspan><tspan x="6157.5" dy="19.8">class = 1</tspan></text></g>
<g id="n101" class="nd"><rect x="6308" y="1115.9" width="127" height="111" rx="13" fill="#52a9e8"/><text y="1137.8"><tspan x="6371.5">Edad ≤ 54.5</tspan><tspan x="6371.5" dy="19.8">gini = 0.198</tspan><tspan x="6371.5" dy="19.8">samples = 9</tspan><tspan x="6371.5" dy="19.8">value = [1, 8]</tspan><tspan x="6371.5" dy="19.8">class = 1</tspan></text></g>
<g id="n102" class="nd o"><rect x="6459.5" y="1126.1" width="129" height="90.6" rx="13"/><text y="1147.7"><tspan x="6524">gini = 0.0</tspan><tspan x="6524" dy="19.8">samples = 1</tspan><tspan x="6524" dy="19.8">value = [1, 0]</tspan><tspan x="6524" dy="19.8">class = 0</tspan></text></g>
<g id="n103" class="nd b"><rect x="627" y="1284.8" width="129" height="90.6" rx="13"/><text y="1306.4"><tspan x="691.5">gini = 0.0</tspan><tspan x="691.5" dy="19.8">samples = 1</tspan><tspan x="691.5" dy="19.8">value = [0, 1]</tspan><tspan x="691.5" dy="19.8">class = 1</tspan></text></g>
<g id="n104" class="nd o"><rect x="779" y="1284.8" width="129" height="90.6" rx="13"/><text y="1306.4"><tspan x="843.5">gini = 0.0</tspan><tspan x="843.5" dy="19.8">samples = 5</tspan><tspan x="843.5" dy="19.8">value = [5, 0]</tspan><tspan x="843.5" dy="19.8">class = 0</tspan></text></g>
<g id="n105" class="nd b"><rect x="1017" y="1284.8" width="129" height="90.6" rx="13"/><text y="1306.4"><tspan x="1081.5">gini = 0.0</tspan><tspan x="1081.5" dy="19.8">samples = 5</tspan><tspan x="1081.5" dy="19.8">value = [0, 5]</tspan><tspan x="1081.5" dy="19.8">class = 1</tspan></text></g>
<g id="n106" class="nd"><rect x="1171" y="1274.6" width="267" height="111" rx="13" fill="#ffffff"/><text y="1296.5"><tspan x="1304.5">Función de Pedigree ≤ 0.637</tspan><tspan x="1304.5" dy="19.8">gini = 0.5</tspan><tspan x="1304.5" dy="19.8">samples = 2</tspan><tspan x="1304.5" dy="19.8">value = [1, 1]</tspan><tspan x="1304.5" dy="19.8">class = 0</tspan></text></g>
<g id="n107" class="nd b"><rect x="1462.5" y="1284.8" width="129" height="90.6" rx="13"/><text y="1306.4"><tspan x="1527">gini = 0.0</tspan><tspan x="1527" dy="19.8">samples = 1</tspan><tspan x="1527" dy="19.8">value = [0, 1]</tspan><tspan x="1527" dy="19.8">class = 1</tspan></text></g>
<g id="n108" class="nd"><rect x="1616" y="1274.6" width="268" height="111" rx="13" fill="#e78c49"/><text y="1296.5"><tspan x="1750">Función de Pedigree ≤ 0.505</tspan><tspan x="1750" dy="19.8">gini = 0.142</tspan><tspan x="1750" dy="19.8">samples = 13</tspan><tspan x="1750" dy="19.8">value = [12, 1]</tspan><tspan x="1750" dy="19.8">class = 0</tspan></text></g>
<g id="n109" class="nd o"><rect x="1908" y="1284.8" width="129" height="90.6" rx="13"/><text y="1306.4"><tspan x="1972.5">gini = 0.0</tspan><tspan x="1972.5" dy="19.8">samples = 4</tspan><tspan x="1972.5" dy="19.8">value = [4, 0]</tspan><tspan x="1972.5" dy="19.8">class = 0</tspan></text></g>
<g id="n110" class="nd b"><rect x="2061" y="1284.8" width="129" height="90.6" rx="13"/><text y="1306.4"><tspan x="2125.5">gini = 0.0</tspan><tspan x="2125.5" dy="19.8">samples = 1</tspan><tspan x="2125.5" dy="19.8">value = [0, 1]</tspan><tspan x="2125.5" dy="19.8">class = 1</tspan></text></g>
<g id="n111" class="nd"><rect x="2215" y="1274.6" width="208" height="111" rx="13" fill="#f2c09c"/><text y="1296.5"><tspan x="2319">Presion Arterial ≤ 75.0</tspan><tspan x="2319" dy="19.8">gini = 0.444</tspan><tspan x="2319" dy="19.8">samples = 6</tspan><tspan x="2319" dy="19.8">value = [4, 2]</tspan><tspan x="2319" dy="19.8">class = 0</tspan></text></g>
<g id="n112" class="nd"><rect x="2448" y="1274.6" width="267" height="111" rx="13" fill="#63b2ea"/><text y="1296.5"><tspan x="2581.5">Función de Pedigree ≤ 0.371</tspan><tspan x="2581.5" dy="19.8">gini = 0.287</tspan><tspan x="2581.5" dy="19.8">samples = 23</tspan><tspan x="2581.5" dy="19.8">value = [4, 19]</tspan><tspan x="2581.5" dy="19.8">class = 1</tspan></text></g>
<g id="n113" class="nd o"><rect x="2740" y="1284.8" width="129" height="90.6" rx="13"/><text y="1306.4"><tspan x="2804.5">gini = 0.0</tspan><tspan x="2804.5" dy="19.8">samples = 6</tspan><tspan x="2804.5" dy="19.8">value = [6, 0]</tspan><tspan x="2804.5" dy="19.8">class = 0</tspan></text></g>
<g id="n114" class="nd b"><rect x="2893" y="1284.8" width="129" height="90.6" rx="13"/><text y="1306.4"><tspan x="2957.5">gini = 0.0</tspan><tspan x="2957.5" dy="19.8">samples = 1</tspan><tspan x="2957.5" dy="19.8">value = [0, 1]</tspan><tspan x="2957.5" dy="19.8">class = 1</tspan></text></g>
<g id="n115" class="nd"><rect x="3047" y="1274.6" width="259" height="111" rx="13" fill="#e68845"/><text y="1296.5"><tspan x="3176.5">Indice Masa Corporal ≤ 43.1</tspan><tspan x="3176.5" dy="19.8">gini = 0.105</tspan><tspan x="3176.5" dy="19.8">samples = 18</tspan><tspan x="3176.5" dy="19.8">value = [17, 1]</tspan><tspan x="3176.5" dy="19.8">class = 0</tspan></text></g>
<g id="n116" class="nd b"><rect x="3331" y="1284.8" width="129" height="90.6" rx="13"/><text y="1306.4"><tspan x="3395.5">gini = 0.0</tspan><tspan x="3395.5" dy="19.8">samples = 1</tspan><tspan x="3395.5" dy="19.8">value = [0, 1]</tspan><tspan x="3395.5" dy="19.8">class = 1</tspan></text></g>
<g id="n117" class="nd b"><rect x="3484" y="1284.8" width="129" height="90.6" rx="13"/><text y="1306.4"><tspan x="3548.5">gini = 0.0</tspan><tspan x="3548.5" dy="19.8">samples = 4</tspan><tspan x="3548.5" dy="19.8">value = [0, 4]</tspan><tspan x="3548.5" dy="19.8">class = 1</tspan></text></g>
<g id="n118" class="nd"><rect x="3637" y="1274.6" width="161" height="111" rx="13" fill="#ffffff"/><text y="1296.5"><tspan x="3717.5">Glucosa ≤ 105.5</tspan><tspan x="3717.5" dy="19.8">gini = 0.5</tspan><tspan x="3717.5" dy="19.8">samples = 6</tspan><tspan x="3717.5" dy="19.8">value = [3, 3]</tspan><tspan x="3717.5" dy="19.8">class = 0</tspan></text></g>
<g id="n119" class="nd"><rect x="3823" y="1274.6" width="260" height="111" rx="13" fill="#f6d5bd"/><text y="1296.5"><tspan x="3953">Indice Masa Corporal ≤ 25.9</tspan><tspan x="3953" dy="19.8">gini = 0.48</tspan><tspan x="3953" dy="19.8">samples = 10</tspan><tspan x="3953" dy="19.8">value = [6, 4]</tspan><tspan x="3953" dy="19.8">class = 0</tspan></text></g>
<g id="n120" class="nd o"><rect x="4106.5" y="1284.8" width="129" height="90.6" rx="13"/><text y="1306.4"><tspan x="4171">gini = 0.0</tspan><tspan x="4171" dy="19.8">samples = 7</tspan><tspan x="4171" dy="19.8">value = [7, 0]</tspan><tspan x="4171" dy="19.8">class = 0</tspan></text></g>
<g id="n121" class="nd b"><rect x="4260" y="1284.8" width="129" height="90.6" rx="13"/><text y="1306.4"><tspan x="4324.5">gini = 0.0</tspan><tspan x="4324.5" dy="19.8">samples = 6</tspan><tspan x="4324.5" dy="19.8">value = [0, 6]</tspan><tspan x="4324.5" dy="19.8">class = 1</tspan></text></g>
<g id="n122" class="nd o"><rect x="4413.5" y="1284.8" width="129" height="90.6" rx="13"/><text y="1306.4"><tspan x="4478">gini = 0.0</tspan><tspan x="4478" dy="19.8">samples = 1</tspan><tspan x="4478" dy="19.8">value = [1, 0]</tspan><tspan x="4478" dy="19.8">class = 0</tspan></text></g>
<g id="n123" class="nd"><rect x="4567" y="1274.6" width="267" height="111" rx="13" fill="#fbece1"/><text y="1296.5"><tspan x="4700.5">Función de Pedigree ≤ 0.285</tspan><tspan x="4700.5" dy="19.8">gini = 0.497</tspan><tspan x="4700.5" dy="19.8">samples = 24</tspan><tspan x="4700.5" dy="19.8">value = [13, 11]</tspan><tspan x="4700.5" dy="19.8">class = 0</tspan></text></g>
<g id="n124" class="nd o"><rect x="4859" y="1284.8" width="129" height="90.6" rx="13"/><text y="1306.4"><tspan x="4923.5">gini = 0.0</tspan><tspan x="4923.5" dy="19.8">samples = 8</tspan><tspan x="4923.5" dy="19.8">value = [8, 0]</tspan><tspan x="4923.5" dy="19.8">class = 0</tspan></text></g>
<g id="n125" class="nd b"><rect x="5289.5" y="1284.8" width="129" height="90.6" rx="13"/><text y="1306.4"><tspan x="5354">gini = 0.0</tspan><tspan x="5354" dy="19.8">samples = 7</tspan><tspan x="5354" dy="19.8">value = [0, 7]</tspan><tspan x="5354" dy="19.8">class = 1</tspan></text></g>
<g id="n126" class="nd"><rect x="5443" y="1274.6" width="160" height="111" rx="13" fill="#f2c09c"/><text y="1296.5"><tspan x="5523">Glucosa ≤ 186.0</tspan><tspan x="5523" dy="19.8">gini = 0.444</tspan><tspan x="5523" dy="19.8">samples = 3</tspan><tspan x="5523" dy="19.8">value = [2, 1]</tspan><tspan x="5523" dy="19.8">class = 0</tspan></text></g>
<g id="n127" class="nd b"><rect x="5627.5" y="1284.8" width="129" height="90.6" rx="13"/><text y="1306.4"><tspan x="5692">gini = 0.0</tspan><tspan x="5692" dy="19.8">samples = 1</tspan><tspan x="5692" dy="19.8">value = [0, 1]</tspan><tspan x="5692" dy="19.8">class = 1</tspan></text></g>
<g id="n128" class="nd o"><rect x="5781" y="1284.8" width="129" height="90.6" rx="13"/><text y="1306.4"><tspan x="5845.5">gini = 0.0</tspan><tspan x="5845.5" dy="19.8">samples = 4</tspan><tspan x="5845.5" dy="19.8">value = [4, 0]</tspan><tspan x="5845.5" dy="19.8">class = 0</tspan></text></g>
<g id="n129" class="nd o"><rect x="5934.5" y="1284.8" width="129" height="90.6" rx="13"/><text y="1306.4"><tspan x="5999">gini = 0.0</tspan><tspan x="5999" dy="19.8">samples = 1</tspan><tspan x="5999" dy="19.8">value = [1, 0]</tspan><tspan x="5999" dy="19.8">class = 0</tspan></text></g>
<g id="n130" class="nd b"><rect x="6087.5" y="1284.8" width="129" height="90.6" rx="13"/><text y="1306.4"><tspan x="6152">gini = 0.0</tspan><tspan x="6152" dy="19.8">samples = 1</tspan><tspan x="6152" dy="19.8">value = [0, 1]</tspan><tspan x="6152" dy="19.8">class = 1</tspan></text></g>
<g id="n131" class="nd b"><rect x="6274.5" y="1284.8" width="129" height="90.6" rx="13"/><text y="1306.4"><tspan x="6339">gini = 0.0</tspan><tspan x="6339" dy="19.8">samples = 8</tspan><tspan x="6339" dy="19.8">value = [0, 8]</tspan><tspan x="6339" dy="19.8">class = 1</tspan></text></g>
<g id="n132" class="nd o"><rect x="6427.5" y="1284.8" width="129" height="90.6" rx="13"/><text y="1306.4"><tspan x="6492">gini = 0.0</tspan><tspan x="6492" dy="19.8">samples = 1</tspan><tspan x="6492" dy="19.8">value = [1, 0]</tspan><tspan x="6492" dy="19.8">class = 0</tspan></text></g>
<g id="n133" class="nd o"><rect x="1164" y="1443.5" width="129" height="90.6" rx="13"/><text y="1465.1"><tspan x="1228.5">gini = 0.0</tspan><tspan x="1228.5" dy="19.8">samples = 1</tspan><tspan x="1228.5" dy="19.8">value = [1, 0]</tspan><tspan x="1228.5" dy="19.8">class = 0</tspan></text></g>
<g id="n134" class="nd b"><rect x="1317" y="1443.5" width="129" height="90.6" rx="13"/><text y="1465.1"><tspan x="1381.5">gini = 0.0</tspan><tspan x="1381.5" dy="19.8">samples = 1</tspan><tspan x="1381.5" dy="19.8">value = [0, 1]</tspan><tspan x="1381.5" dy="19.8">class = 1</tspan></text></g>
<g id="n135" class="nd b"><rect x="1616" y="1443.5" width="129" height="90.6" rx="13"/><text y="1465.1"><tspan x="1680.5">gini = 0.0</tspan><tspan x="1680.5" dy="19.8">samples = 1</tspan><tspan x="1680.5" dy="19.8">value = [0, 1]</tspan><tspan x="1680.5" dy="19.8">class = 1</tspan></text></g>
<g id="n136" class="nd o"><rect x="1770" y="1443.5" width="139" height="90.6" rx="13"/><text y="1465.1"><tspan x="1839.5">gini = 0.0</tspan><tspan x="1839.5" dy="19.8">samples = 12</tspan><tspan x="1839.5" dy="19.8">value = [12, 0]</tspan><tspan x="1839.5" dy="19.8">class = 0</tspan></text></g>
<g id="n137" class="nd o"><rect x="2154" y="1443.5" width="129" height="90.6" rx="13"/><text y="1465.1"><tspan x="2218.5">gini = 0.0</tspan><tspan x="2218.5" dy="19.8">samples = 4</tspan><tspan x="2218.5" dy="19.8">value = [4, 0]</tspan><tspan x="2218.5" dy="19.8">class = 0</tspan></text></g>
<g id="n138" class="nd b"><rect x="2307" y="1443.5" width="129" height="90.6" rx="13"/><text y="1465.1"><tspan x="2371.5">gini = 0.0</tspan><tspan x="2371.5" dy="19.8">samples = 2</tspan><tspan x="2371.5" dy="19.8">value = [0, 2]</tspan><tspan x="2371.5" dy="19.8">class = 1</tspan></text></g>
<g id="n139" class="nd b"><rect x="2487" y="1443.5" width="139" height="90.6" rx="13"/><text y="1465.1"><tspan x="2556.5">gini = 0.0</tspan><tspan x="2556.5" dy="19.8">samples = 16</tspan><tspan x="2556.5" dy="19.8">value = [0, 16]</tspan><tspan x="2556.5" dy="19.8">class = 1</tspan></text></g>
<g id="n140" class="nd"><rect x="2652" y="1433.3" width="164" height="111" rx="13" fill="#f8e0ce"/><text y="1455.2"><tspan x="2734">Embarazos ≤ 6.5</tspan><tspan x="2734" dy="19.8">gini = 0.49</tspan><tspan x="2734" dy="19.8">samples = 7</tspan><tspan x="2734" dy="19.8">value = [4, 3]</tspan><tspan x="2734" dy="19.8">class = 0</tspan></text></g>
<g id="n141" class="nd o"><rect x="3010.5" y="1443.5" width="139" height="90.6" rx="13"/><text y="1465.1"><tspan x="3080">gini = 0.0</tspan><tspan x="3080" dy="19.8">samples = 16</tspan><tspan x="3080" dy="19.8">value = [16, 0]</tspan><tspan x="3080" dy="19.8">class = 0</tspan></text></g>
<g id="n142" class="nd"><rect x="3174" y="1433.3" width="165" height="111" rx="13" fill="#ffffff"/><text y="1455.2"><tspan x="3256.5">Embarazos ≤ 9.5</tspan><tspan x="3256.5" dy="19.8">gini = 0.5</tspan><tspan x="3256.5" dy="19.8">samples = 2</tspan><tspan x="3256.5" dy="19.8">value = [1, 1]</tspan><tspan x="3256.5" dy="19.8">class = 0</tspan></text></g>
<g id="n143" class="nd b"><rect x="3497.5" y="1443.5" width="129" height="90.6" rx="13"/><text y="1465.1"><tspan x="3562">gini = 0.0</tspan><tspan x="3562" dy="19.8">samples = 2</tspan><tspan x="3562" dy="19.8">value = [0, 2]</tspan><tspan x="3562" dy="19.8">class = 1</tspan></text></g>
<g id="n144" class="nd"><rect x="3651" y="1433.3" width="165" height="111" rx="13" fill="#eeab7b"/><text y="1455.2"><tspan x="3733.5">Embarazos ≤ 7.5</tspan><tspan x="3733.5" dy="19.8">gini = 0.375</tspan><tspan x="3733.5" dy="19.8">samples = 4</tspan><tspan x="3733.5" dy="19.8">value = [3, 1]</tspan><tspan x="3733.5" dy="19.8">class = 0</tspan></text></g>
<g id="n145" class="nd o"><rect x="3872" y="1443.5" width="129" height="90.6" rx="13"/><text y="1465.1"><tspan x="3936.5">gini = 0.0</tspan><tspan x="3936.5" dy="19.8">samples = 5</tspan><tspan x="3936.5" dy="19.8">value = [5, 0]</tspan><tspan x="3936.5" dy="19.8">class = 0</tspan></text></g>
<g id="n146" class="nd"><rect x="4026" y="1433.3" width="208" height="111" rx="13" fill="#6ab6ec"/><text y="1455.2"><tspan x="4130">Presion Arterial ≤ 81.0</tspan><tspan x="4130" dy="19.8">gini = 0.32</tspan><tspan x="4130" dy="19.8">samples = 5</tspan><tspan x="4130" dy="19.8">value = [1, 4]</tspan><tspan x="4130" dy="19.8">class = 1</tspan></text></g>
<g id="n147" class="nd"><rect x="4452" y="1433.3" width="267" height="111" rx="13" fill="#e99355"/><text y="1455.2"><tspan x="4585.5">Función de Pedigree ≤ 0.149</tspan><tspan x="4585.5" dy="19.8">gini = 0.219</tspan><tspan x="4585.5" dy="19.8">samples = 8</tspan><tspan x="4585.5" dy="19.8">value = [7, 1]</tspan><tspan x="4585.5" dy="19.8">class = 0</tspan></text></g>
<g id="n148" class="nd"><rect x="4744" y="1433.3" width="139" height="111" rx="13" fill="#b0d8f5"/><text y="1455.2"><tspan x="4813.5">Edad ≤ 30.5</tspan><tspan x="4813.5" dy="19.8">gini = 0.469</tspan><tspan x="4813.5" dy="19.8">samples = 16</tspan><tspan x="4813.5" dy="19.8">value = [6, 10]</tspan><tspan x="4813.5" dy="19.8">class = 1</tspan></text></g>
<g id="n149" class="nd o"><rect x="5381.5" y="1443.5" width="129" height="90.6" rx="13"/><text y="1465.1"><tspan x="5446">gini = 0.0</tspan><tspan x="5446" dy="19.8">samples = 2</tspan><tspan x="5446" dy="19.8">value = [2, 0]</tspan><tspan x="5446" dy="19.8">class = 0</tspan></text></g>
<g id="n150" class="nd b"><rect x="5534" y="1443.5" width="129" height="90.6" rx="13"/><text y="1465.1"><tspan x="5598.5">gini = 0.0</tspan><tspan x="5598.5" dy="19.8">samples = 1</tspan><tspan x="5598.5" dy="19.8">value = [0, 1]</tspan><tspan x="5598.5" dy="19.8">class = 1</tspan></text></g>
<g id="n151" class="nd"><rect x="2570" y="1592" width="160" height="111" rx="13" fill="#7bbeee"/><text y="1613.9"><tspan x="2650">Glucosa ≤ 112.5</tspan><tspan x="2650" dy="19.8">gini = 0.375</tspan><tspan x="2650" dy="19.8">samples = 4</tspan><tspan x="2650" dy="19.8">value = [1, 3]</tspan><tspan x="2650" dy="19.8">class = 1</tspan></text></g>
<g id="n152" class="nd o"><rect x="2754.5" y="1602.2" width="129" height="90.6" rx="13"/><text y="1623.8"><tspan x="2819">gini = 0.0</tspan><tspan x="2819" dy="19.8">samples = 3</tspan><tspan x="2819" dy="19.8">value = [3, 0]</tspan><tspan x="2819" dy="19.8">class = 0</tspan></text></g>
<g id="n153" class="nd b"><rect x="3145" y="1602.2" width="129" height="90.6" rx="13"/><text y="1623.8"><tspan x="3209.5">gini = 0.0</tspan><tspan x="3209.5" dy="19.8">samples = 1</tspan><tspan x="3209.5" dy="19.8">value = [0, 1]</tspan><tspan x="3209.5" dy="19.8">class = 1</tspan></text></g>
<g id="n154" class="nd o"><rect x="3299" y="1602.2" width="129" height="90.6" rx="13"/><text y="1623.8"><tspan x="3363.5">gini = 0.0</tspan><tspan x="3363.5" dy="19.8">samples = 1</tspan><tspan x="3363.5" dy="19.8">value = [1, 0]</tspan><tspan x="3363.5" dy="19.8">class = 0</tspan></text></g>
<g id="n155" class="nd o"><rect x="3566" y="1602.2" width="129" height="90.6" rx="13"/><text y="1623.8"><tspan x="3630.5">gini = 0.0</tspan><tspan x="3630.5" dy="19.8">samples = 3</tspan><tspan x="3630.5" dy="19.8">value = [3, 0]</tspan><tspan x="3630.5" dy="19.8">class = 0</tspan></text></g>
<g id="n156" class="nd b"><rect x="3719" y="1602.2" width="129" height="90.6" rx="13"/><text y="1623.8"><tspan x="3783.5">gini = 0.0</tspan><tspan x="3783.5" dy="19.8">samples = 1</tspan><tspan x="3783.5" dy="19.8">value = [0, 1]</tspan><tspan x="3783.5" dy="19.8">class = 1</tspan></text></g>
<g id="n157" class="nd b"><rect x="3921" y="1602.2" width="129" height="90.6" rx="13"/><text y="1623.8"><tspan x="3985.5">gini = 0.0</tspan><tspan x="3985.5" dy="19.8">samples = 4</tspan><tspan x="3985.5" dy="19.8">value = [0, 4]</tspan><tspan x="3985.5" dy="19.8">class = 1</tspan></text></g>
<g id="n158" class="nd o"><rect x="4074" y="1602.2" width="129" height="90.6" rx="13"/><text y="1623.8"><tspan x="4138.5">gini = 0.0</tspan><tspan x="4138.5" dy="19.8">samples = 1</tspan><tspan x="4138.5" dy="19.8">value = [1, 0]</tspan><tspan x="4138.5" dy="19.8">class = 0</tspan></text></g>
<g id="n159" class="nd b"><rect x="4369" y="1602.2" width="129" height="90.6" rx="13"/><text y="1623.8"><tspan x="4433.5">gini = 0.0</tspan><tspan x="4433.5" dy="19.8">samples = 1</tspan><tspan x="4433.5" dy="19.8">value = [0, 1]</tspan><tspan x="4433.5" dy="19.8">class = 1</tspan></text></g>
<g id="n160" class="nd o"><rect x="4522" y="1602.2" width="129" height="90.6" rx="13"/><text y="1623.8"><tspan x="4586.5">gini = 0.0</tspan><tspan x="4586.5" dy="19.8">samples = 7</tspan><tspan x="4586.5" dy="19.8">value = [7, 0]</tspan><tspan x="4586.5" dy="19.8">class = 0</tspan></text></g>
<g id="n161" class="nd"><rect x="4678" y="1592" width="268" height="111" rx="13" fill="#f6d5bd"/><text y="1613.9"><tspan x="4812">Función de Pedigree ≤ 0.377</tspan><tspan x="4812" dy="19.8">gini = 0.48</tspan><tspan x="4812" dy="19.8">samples = 10</tspan><tspan x="4812" dy="19.8">value = [6, 4]</tspan><tspan x="4812" dy="19.8">class = 0</tspan></text></g>
<g id="n162" class="nd b"><rect x="4970.5" y="1602.2" width="129" height="90.6" rx="13"/><text y="1623.8"><tspan x="5035">gini = 0.0</tspan><tspan x="5035" dy="19.8">samples = 6</tspan><tspan x="5035" dy="19.8">value = [0, 6]</tspan><tspan x="5035" dy="19.8">class = 1</tspan></text></g>
<g id="n163" class="nd o"><rect x="2509.5" y="1760.9" width="129" height="90.6" rx="13"/><text y="1782.5"><tspan x="2574">gini = 0.0</tspan><tspan x="2574" dy="19.8">samples = 1</tspan><tspan x="2574" dy="19.8">value = [1, 0]</tspan><tspan x="2574" dy="19.8">class = 0</tspan></text></g>
<g id="n164" class="nd b"><rect x="2662" y="1760.9" width="129" height="90.6" rx="13"/><text y="1782.5"><tspan x="2726.5">gini = 0.0</tspan><tspan x="2726.5" dy="19.8">samples = 3</tspan><tspan x="2726.5" dy="19.8">value = [0, 3]</tspan><tspan x="2726.5" dy="19.8">class = 1</tspan></text></g>
<g id="n165" class="nd b"><rect x="4662" y="1760.9" width="129" height="90.6" rx="13"/><text y="1782.5"><tspan x="4726.5">gini = 0.0</tspan><tspan x="4726.5" dy="19.8">samples = 2</tspan><tspan x="4726.5" dy="19.8">value = [0, 2]</tspan><tspan x="4726.5" dy="19.8">class = 1</tspan></text></g>
<g id="n166" class="nd"><rect x="4815" y="1750.7" width="165" height="111" rx="13" fill="#eeab7b"/><text y="1772.6"><tspan x="4897.5">Embarazos ≤ 3.0</tspan><tspan x="4897.5" dy="19.8">gini = 0.375</tspan><tspan x="4897.5" dy="19.8">samples = 8</tspan><tspan x="4897.5" dy="19.8">value = [6, 2]</tspan><tspan x="4897.5" dy="19.8">class = 0</tspan></text></g>
<g id="n167" class="nd o"><rect x="4749" y="1919.6" width="129" height="90.6" rx="13"/><text y="1941.2"><tspan x="4813.5">gini = 0.0</tspan><tspan x="4813.5" dy="19.8">samples = 5</tspan><tspan x="4813.5" dy="19.8">value = [5, 0]</tspan><tspan x="4813.5" dy="19.8">class = 0</tspan></text></g>
<g id="n168" class="nd"><rect x="4903" y="1909.4" width="160" height="111" rx="13" fill="#9ccef2"/><text y="1931.3"><tspan x="4983">Glucosa ≤ 143.5</tspan><tspan x="4983" dy="19.8">gini = 0.444</tspan><tspan x="4983" dy="19.8">samples = 3</tspan><tspan x="4983" dy="19.8">value = [1, 2]</tspan><tspan x="4983" dy="19.8">class = 1</tspan></text></g>
<g id="n169" class="nd b"><rect x="4842.5" y="2067.9" width="129" height="90.6" rx="13"/><text y="2089.5"><tspan x="4907">gini = 0.0</tspan><tspan x="4907" dy="19.8">samples = 2</tspan><tspan x="4907" dy="19.8">value = [0, 2]</tspan><tspan x="4907" dy="19.8">class = 1</tspan></text></g>
<g id="n170" class="nd o"><rect x="4995.5" y="2067.9" width="129" height="90.6" rx="13"/><text y="2089.5"><tspan x="5060">gini = 0.0</tspan><tspan x="5060" dy="19.8">samples = 1</tspan><tspan x="5060" dy="19.8">value = [1, 0]</tspan><tspan x="5060" dy="19.8">class = 0</tspan></text></g>
</svg>
